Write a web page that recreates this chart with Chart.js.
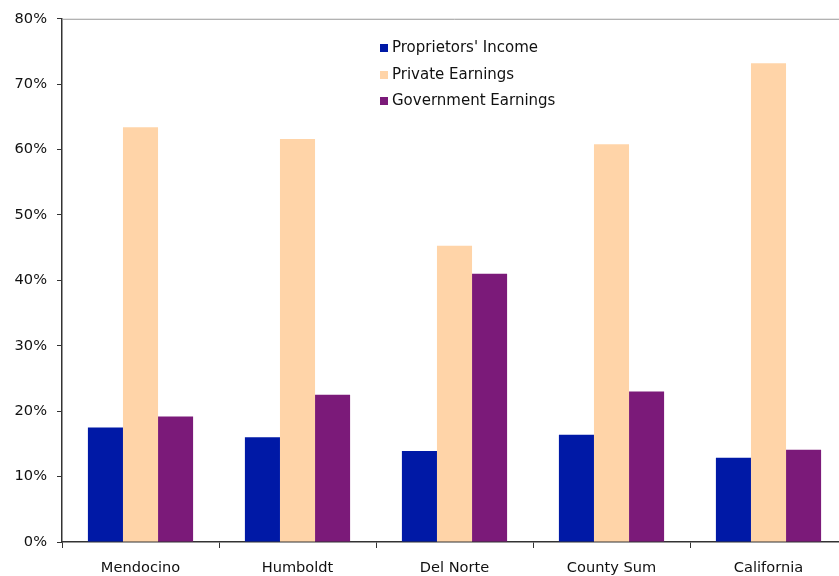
<!DOCTYPE html>
<html>
<head>
<meta charset="utf-8">
<script src="https://cdn.jsdelivr.net/npm/chart.js@4"></script>
<style>
    html, body { margin: 0; padding: 0; background: #fff; overflow: hidden; }
    #wrap { position: relative; width: 850px; height: 576px; }
    #legend { position: absolute; left: 380px; top: 36px; font-family: "DejaVu Sans", Verdana, sans-serif; font-size: 15px; color: #111; }
    #legend div { height: 26.5px; line-height: 22px; white-space: nowrap; }
    #legend span.box { display: inline-block; width: 8px; height: 8px; margin-right: 4px; vertical-align: 0px; }
</style>
</head>
<body>
<div id="wrap">
    <canvas id="bar"></canvas>
    <div id="legend"></div>
</div>
<script>
const categories = ['Mendocino', 'Humboldt', 'Del Norte', 'County Sum', 'California'];
const seriesNames = ["Proprietors' Income", 'Private Earnings', 'Government Earnings'];
const proprietorsIncome = [17.5, 16.0, 13.9, 16.4, 12.9];
const privateEarnings = [63.4, 61.6, 45.3, 60.8, 73.2];
const governmentEarnings = [19.2, 22.5, 41.0, 23.0, 14.1];
const colours = ['#0019A6', '#FFD4A8', '#7B1A79'];
const yTicks = [0, 10, 20, 30, 40, 50, 60, 70, 80];

const font = { family: '"DejaVu Sans", Verdana, sans-serif', size: 14.6 };
const axisColour = '#333';

// thin grey line along the top of the plot area
const topBorder = {
    id: 'topBorder',
    afterDraw(chart) {
        const { ctx, chartArea } = chart;
        ctx.save();
        ctx.strokeStyle = '#999';
        ctx.lineWidth = 1;
        ctx.beginPath();
        ctx.moveTo(chartArea.left, chartArea.top + 0.5);
        ctx.lineTo(chartArea.right, chartArea.top + 0.5);
        ctx.stroke();
        ctx.restore();
    }
};

function chart(labels, names, values) {
    const ctx = document.getElementById('bar');

    const data = {
        labels: labels,
        datasets: values.map((v, i) => ({
            label: names[i],
            data: v,
            backgroundColor: colours[i],
            borderWidth: 0,
            categoryPercentage: 0.67,
            barPercentage: 1.0
        }))
    };

    new Chart(ctx, {
        type: 'bar',
        data: data,
        plugins: [topBorder],
        options: {
            responsive: true,
            maintainAspectRatio: false,
            animation: false,
            layout: { padding: { top: 18, right: 3, left: 0, bottom: 0 } },
            plugins: {
                legend: { display: false },
                tooltip: { enabled: false }
            },
            scales: {
                x: {
                    grid: { display: true, drawOnChartArea: false, drawTicks: true, tickLength: 6, color: axisColour, offset: true },
                    border: { color: axisColour, width: 1.5 },
                    ticks: { color: '#111', font: font, padding: 11, maxRotation: 0 },
                    afterFit(scale) { scale.height = 34; }
                },
                y: {
                    min: 0,
                    max: 80,
                    afterBuildTicks(scale) { scale.ticks = yTicks.map(v => ({ value: v })); },
                    grid: { display: true, drawOnChartArea: false, drawTicks: true, tickLength: 5, color: axisColour },
                    border: { color: axisColour, width: 1.5 },
                    ticks: { color: '#111', font: font, padding: 10, callback: v => v + '%' },
                    afterFit(scale) { scale.width = 62; }
                }
            }
        }
    });
}

function legend(names) {
    const el = document.getElementById('legend');
    names.forEach((name, i) => {
        const row = document.createElement('div');
        const box = document.createElement('span');
        box.className = 'box';
        box.style.background = colours[i];
        row.appendChild(box);
        row.appendChild(document.createTextNode(name));
        el.appendChild(row);
    });
}

chart(categories, seriesNames, [proprietorsIncome, privateEarnings, governmentEarnings]);
legend(seriesNames);
</script>
</body>
</html>
